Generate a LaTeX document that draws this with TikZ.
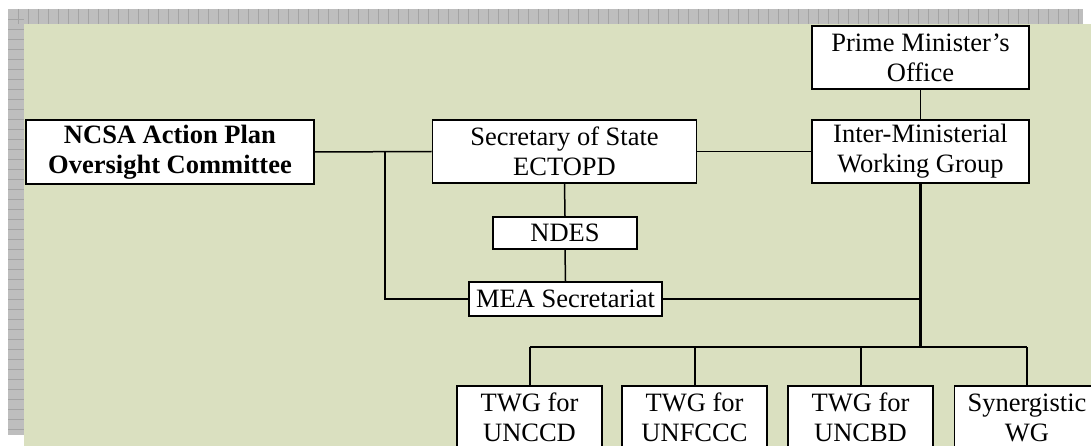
\documentclass[tikz,border=0pt]{standalone}
\usepackage{fontspec}
\setmainfont{Liberation Serif}
\definecolor{bggreen}{HTML}{DAE0C0}
\definecolor{gridgray}{HTML}{BEBEBE}
\definecolor{gridline}{HTML}{A4A4A4}
\begin{document}
\begin{tikzpicture}[x=1pt,y=-1pt,
    box/.style={draw, line width=1.6pt, fill=white, align=center, inner sep=0pt,
      font=\fontsize{26.5}{30}\selectfont},
    boldbox/.style={box, font=\fontsize{26.5}{30}\selectfont\bfseries},
    link/.style={line width=1.5pt},
    barlink/.style={line width=2pt},
    trunk/.style={line width=2.8pt}]
      \clip (0,0) rectangle (1091,446);

      % draw the background and the grid strips
      \fill[bggreen] (24,24) rectangle (1091,446);
      \fill[gridgray] (8,9) rectangle (1083,24);
      \fill[gridgray] (8,9) rectangle (24,435);
      \foreach \x in {18,28,...,1078}
        \draw[gridline, line width=0.8pt] (\x,9) -- (\x,24);
      \foreach \y in {19,29,...,429}
        \draw[gridline, line width=0.8pt] (8,\y) -- (24,\y);

      % the boxes
      \node[boldbox, minimum width=288pt, minimum height=64pt] (ncsa) at (170,152) {NCSA Action Plan\\Oversight Committee};
      \node[box, minimum width=264pt, minimum height=63pt] (sos) at (564.5,151.5) {Secretary of State\\ECTOPD};
      \node[box, minimum width=217pt, minimum height=63pt] (pmo) at (920.5,57.5) {Prime Minister's\\Office};
      \node[box, minimum width=217pt, minimum height=63pt] (imwg) at (920.5,151.5) {Inter-Ministerial\\Working Group};
      \node[box, minimum width=144pt, minimum height=32pt] (ndes) at (565,233) {NDES};
      \node[box, minimum width=193pt, minimum height=34pt] (mea) at (565.5,299) {MEA Secretariat};

      \node[box, minimum width=145pt, minimum height=63pt] (twga) at (529.5,417.5) {TWG for\\UNCCD};
      \node[box, minimum width=145pt, minimum height=63pt] (twgb) at (694.5,417.5) {TWG for\\UNFCCC};
      \node[box, minimum width=145pt, minimum height=63pt] (twgc) at (860.5,417.5) {TWG for\\UNCBD};
      \node[box, minimum width=145pt, minimum height=63pt] (syn) at (1027,417.5) {Synergistic\\WG};

      % the connectors
      \coordinate (jl) at (385,152);
      \coordinate (bar) at (920,347);
      \draw[link] (ncsa.east) -- (sos.west);
      \draw[link] (jl) |- (mea.west);
      \draw[link] (sos.east) -- (imwg.west);
      \draw[link] (pmo.south) -- (imwg.north);
      \draw[link] (sos.south) -- (ndes.north);
      \draw[link] (ndes.south) -- (mea.north);
      \draw[link] (mea.east) -- (mea.east -| imwg.south);
      \draw[trunk] (imwg.south) -- (imwg.south |- bar);

      \draw[barlink] (twga.north |- bar) -- (syn.north |- bar);
      \foreach \n in {twga,twgb,twgc,syn}
        \draw[barlink] (\n.north |- bar) -- (\n.north);
    \end{tikzpicture}
\end{document}
